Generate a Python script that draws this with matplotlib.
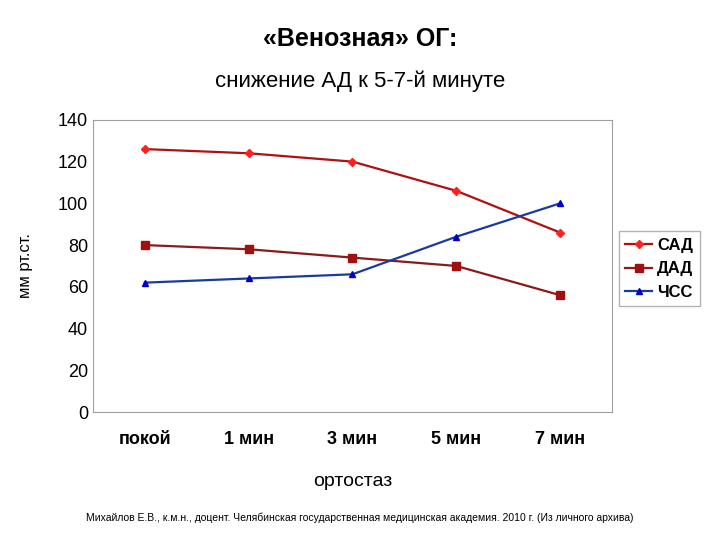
import matplotlib.pyplot as plt

plt.rcParams['font.family'] = ['Liberation Sans', 'DejaVu Sans']

categories = ['покой', '1 мин', '3 мин', '5 мин', '7 мин']
sad = [126, 124, 120, 106, 86]
dad = [80, 78, 74, 70, 56]
chss = [62, 64, 66, 84, 100]

fig = plt.figure(figsize=(7.2, 5.4), dpi=100)
ax = fig.add_axes([0.129, 0.237, 0.721, 0.541])

x = range(len(categories))
ax.plot(x, sad, color='#b01010', marker='D', markersize=4, mfc='#ff2020', mec='#ff2020', lw=1.6, label='САД')
ax.plot(x, dad, color='#8b1a1a', marker='s', markersize=6, mfc='#a01010', mec='#a01010', lw=1.6, label='ДАД')
ax.plot(x, chss, color='#1a3aa0', marker='^', markersize=4, mfc='#0000cc', mec='#0000cc', lw=1.6, label='ЧСС')

ax.set_xlim(-0.5, 4.5)
ax.set_ylim(0, 140)
ax.set_yticks(range(0, 141, 20))
ax.set_xticks(list(x))
ax.set_xticklabels(categories, fontsize=13, fontweight='bold')
ax.tick_params(axis='y', labelsize=13, length=0)
ax.tick_params(axis='x', length=0, pad=14)
for s in ax.spines.values():
    s.set_color('#a0a0a0')
ax.set_ylabel('мм рт.ст.', fontsize=12, labelpad=18)
ax.set_xlabel('ортостаз', fontsize=14, labelpad=18)

ax.legend(loc='center left', bbox_to_anchor=(1.013, 0.49), frameon=True,
          fancybox=False, edgecolor='#a0a0a0', handlelength=1.6, handletextpad=0.3,
          borderpad=0.4, borderaxespad=0, prop={'weight': 'bold', 'size': 12})

fig.text(0.5, 0.915, '«Венозная» ОГ:', ha='center', fontsize=18, fontweight='bold')
fig.text(0.5, 0.838, 'снижение АД к 5-7-й минуте', ha='center', fontsize=16)
fig.text(0.5, 0.035, 'Михайлов Е.В., к.м.н., доцент. Челябинская государственная медицинская академия. 2010 г. (Из личного архива)',
         ha='center', fontsize=7.5)

fig.savefig('out.png', dpi=100)
